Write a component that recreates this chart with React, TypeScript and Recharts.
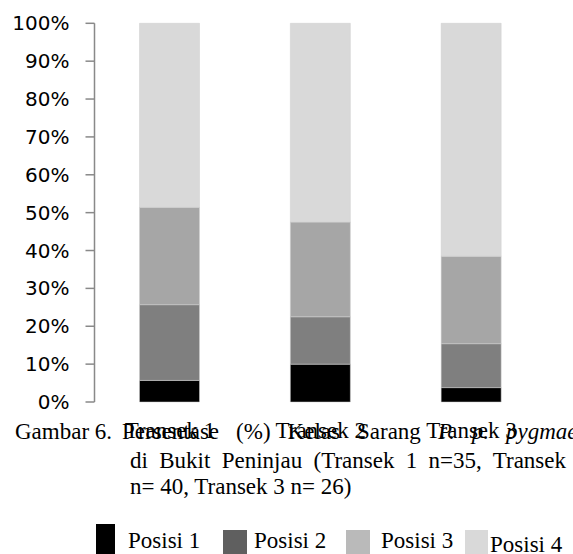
import { Bar, BarChart, XAxis, YAxis } from "recharts";

const transects = ["Transek 1", "Transek 2", "Transek 3"];
const posisi1 = [5.7, 10, 3.8];
const posisi2 = [20, 12.5, 11.6];
const posisi3 = [25.7, 25, 23.1];
const posisi4 = [48.6, 52.5, 61.5];
const seriesNames = ["Posisi 1", "Posisi 2", "Posisi 3", "Posisi 4"];
const yTicks = [0, 0.1, 0.2, 0.3, 0.4, 0.5, 0.6, 0.7, 0.8, 0.9, 1];
const edgeTicks = [0, 1, 2, 3];

const barColors = ["#000000", "#7f7f7f", "#a6a6a6", "#d9d9d9"];
const legendColors = ["#000000", "#5f5f5f", "#bababa", "#d9d9d9"];
const keys = ["p1", "p2", "p3", "p4"];

const data = transects.map((name, i) => ({
  name,
  p1: posisi1[i],
  p2: posisi2[i],
  p3: posisi3[i],
  p4: posisi4[i],
}));

const axisGrey = "#898989";
const serif = "'Liberation Serif', 'Times New Roman', serif";

const legendBox = [
  { x: 96, w: 19, top: 524, tx: 128, ttop: 528.7 },
  { x: 223, w: 24, top: 530, tx: 254, ttop: 528.7 },
  { x: 346, w: 24, top: 530, tx: 381, ttop: 528.7 },
  { x: 465, w: 23, top: 530, tx: 490, ttop: 532.7 },
];

const textStyle: React.CSSProperties = {
  position: "absolute",
  fontFamily: serif,
  fontSize: 23,
  lineHeight: "23px",
  color: "#000",
  whiteSpace: "nowrap",
};

const justified: React.CSSProperties = {
  textAlign: "justify",
  textAlignLast: "justify",
  whiteSpace: "normal",
};

export default function App() {
  return (
    <div
      style={{
        position: "absolute",
        left: 0,
        top: 0,
        width: 573,
        height: 554,
        overflow: "hidden",
        background: "#fff",
      }}
    >
      <BarChart
        width={573}
        height={554}
        data={data}
        stackOffset="expand"
        margin={{ top: 23.3, right: 26, left: 0, bottom: 122 }}
      >
        <XAxis
          xAxisId="a"
          type="number"
          domain={[0, 3]}
          ticks={edgeTicks}
          allowDataOverflow
          tick={false}
          tickSize={8}
          height={0}
          axisLine={{ stroke: axisGrey, strokeWidth: 1.5 }}
          tickLine={{ stroke: axisGrey, strokeWidth: 1.5 }}
        />
        <XAxis
          xAxisId="b"
          dataKey="name"
          interval={0}
          axisLine={false}
          tickLine={false}
          tickSize={0}
          tickMargin={20}
          height={30}
          tick={{ fontFamily: serif, fontSize: 23, fill: "#000" }}
        />
        <YAxis
          width={94.5}
          domain={[0, 1]}
          ticks={yTicks}
          interval={0}
          tickSize={9}
          tickMargin={16}
          tickFormatter={(v: number) => `${Math.round(v * 100)}%`}
          axisLine={{ stroke: axisGrey, strokeWidth: 1.5 }}
          tickLine={{ stroke: axisGrey, strokeWidth: 1.5 }}
          tick={{ fontFamily: "'DejaVu Sans', sans-serif", fontSize: 20, fill: "#000" }}
        />
        {keys.map((k, i) => (
          <Bar
            key={k}
            xAxisId="b"
            dataKey={k}
            name={seriesNames[i]}
            stackId="s"
            barSize={60}
            fill={barColors[i]}
            stroke="#cfcfcf"
            strokeWidth={0.5}
            isAnimationActive={false}
          />
        ))}
      </BarChart>

      {/* caption */}
      <div style={{ ...textStyle, left: 15, top: 419.7 }}>Gambar 6.</div>
      <div style={{ ...textStyle, ...justified, left: 122, top: 419.7, width: 476 }}>
        Persentase (%) Kelas Sarang <i>P. p. pygmaeus</i>
      </div>
      <div style={{ ...textStyle, ...justified, left: 130, top: 448.7, width: 436 }}>
        di Bukit Peninjau (Transek 1 n=35, Transek
      </div>
      <div style={{ ...textStyle, left: 130, top: 474.7 }}>
        n= 40, Transek 3 n= 26)
      </div>

      {/* legend */}
      {seriesNames.map((n, i) => (
        <div key={n}>
          <div
            style={{
              position: "absolute",
              left: legendBox[i].x,
              top: legendBox[i].top,
              width: legendBox[i].w,
              height: 40,
              background: legendColors[i],
            }}
          />
          <div style={{ ...textStyle, left: legendBox[i].tx, top: legendBox[i].ttop }}>
            {n}
          </div>
        </div>
      ))}
    </div>
  );
}
